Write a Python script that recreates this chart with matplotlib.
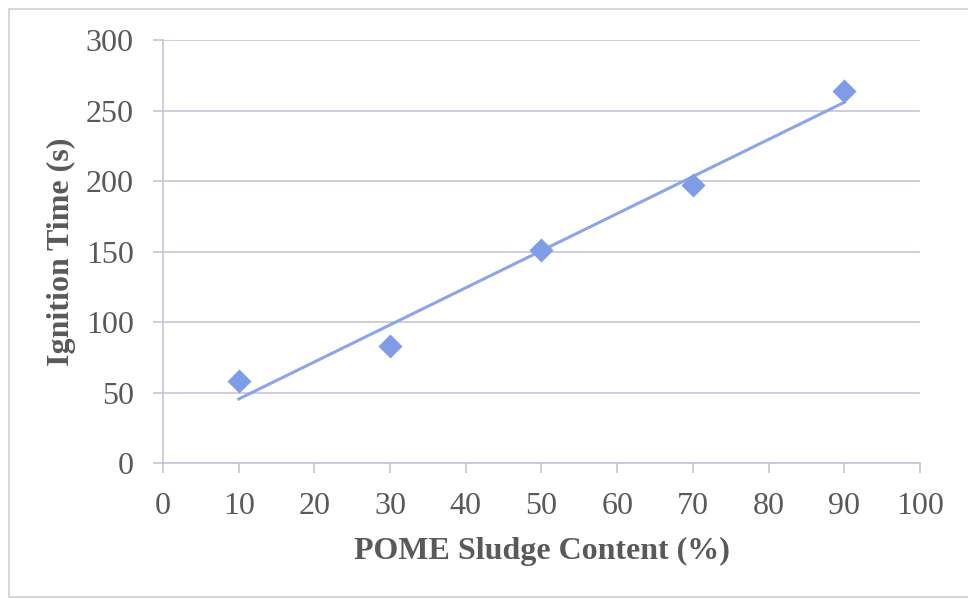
import numpy as np
import matplotlib.pyplot as plt
from matplotlib.patches import Rectangle

# data
sludge = [10, 30, 50, 70, 90]
ign_time = [58, 83, 151, 197, 264]
x_ticks = [0, 10, 20, 30, 40, 50, 60, 70, 80, 90, 100]
y_ticks = [0, 50, 100, 150, 200, 250, 300]

plt.rcParams['font.family'] = ['Liberation Serif', 'DejaVu Serif']
txt = '#595959'
grid_c = '#c3c6d6'

fig = plt.figure(figsize=(9.68, 5.99), dpi=100)
ax = fig.add_axes([0.1684, 0.2270, 0.7820, 0.7062])

# linear trendline
k, b = np.polyfit(sludge, ign_time, 1)
xs = np.array([min(sludge), max(sludge)])
ax.plot(xs, k * xs + b, color='#8ba6e8', lw=2.2, zorder=3)
ax.scatter(sludge, ign_time, marker='D', s=150, color='#7e9de6', zorder=4, linewidths=0)

ax.set_xlim(0, 100)
ax.set_ylim(0, 300)
ax.set_xticks(x_ticks)
ax.set_yticks(y_ticks)
ax.yaxis.grid(True, color=grid_c, lw=1.2)
ax.set_axisbelow(True)

for s in ['top', 'right']:
    ax.spines[s].set_visible(False)
for s in ['left', 'bottom']:
    ax.spines[s].set_color(grid_c)
    ax.spines[s].set_linewidth(1.2)

ax.tick_params(axis='x', length=7, width=1.2, color=grid_c, direction='out',
               labelsize=23, labelcolor=txt, pad=14)
ax.tick_params(axis='y', length=7, width=1.2, color=grid_c, direction='out',
               labelsize=23, labelcolor=txt, pad=14)

ax.set_xlabel('POME Sludge Content (%)', fontsize=23, fontweight='bold', color=txt, labelpad=11)
ax.set_ylabel('Ignition Time (s)', fontsize=23, fontweight='bold', color=txt, labelpad=7)

# outer chart border (right side runs past the image)
fig.patches.append(Rectangle((9 / 968, 2 / 599), 970 / 968, 588 / 599, transform=fig.transFigure,
                             fill=False, edgecolor='#d0d0d0', lw=1.2))

fig.savefig('out.png', dpi=100)
